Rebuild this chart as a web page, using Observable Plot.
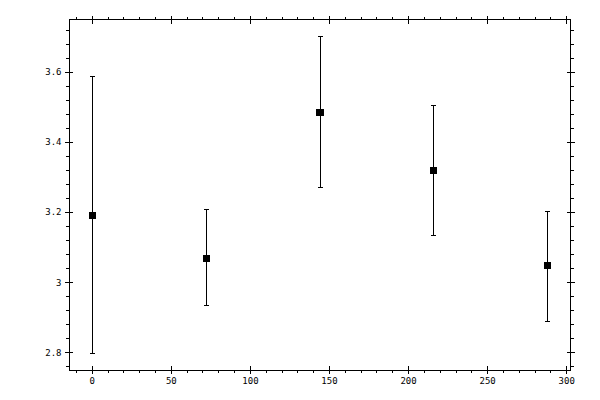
<!DOCTYPE html>
<html>
<head>
<meta charset="utf-8">
<script src="https://cdn.jsdelivr.net/npm/d3@7"></script>
<script src="https://cdn.jsdelivr.net/npm/@observablehq/plot@0.6"></script>
<style>
  html, body { margin: 0; padding: 0; background: #fff; }
  svg line, svg path, svg rect { shape-rendering: crispEdges; }
</style>
</head>
<body>
<div id="chart"></div>
<script>
const xs    = [0, 72, 144, 216, 288];
const ys    = [3.193, 3.070, 3.486, 3.321, 3.048];
const lows  = [2.798, 2.935, 3.270, 3.136, 2.891];
const highs = [3.587, 3.210, 3.702, 3.505, 3.204];

const xMajor = [0, 50, 100, 150, 200, 250, 300];
const xMinor = d3.range(-10, 301, 10);
const yMajor = [2.8, 3.0, 3.2, 3.4, 3.6];
const yMinor = d3.range(276, 373, 4).map(v => v / 100);

const data = xs.map((x, i) => ({x, y: ys[i], lo: lows[i], hi: highs[i]}));

const cap = {draw(ctx) { ctx.moveTo(-2.5, 0); ctx.lineTo(2.5, 0); }};
const blank = () => "";
const fmt = d => String(+d.toFixed(1));
const font = {fontFamily: "'DejaVu Sans Mono', monospace", fontSize: 9};

const chart = Plot.plot({
  width: 600,
  height: 400,
  marginLeft: 69,
  marginRight: 30,
  marginTop: 19,
  marginBottom: 30,
  style: {background: "white", color: "black", ...font},
  x: {domain: [-14.4, 302.4]},
  y: {domain: [2.75, 3.75]},
  marks: [
    Plot.frame({stroke: "black"}),
    // bottom
    Plot.axisX(xMajor, {anchor: "bottom", tickSize: 8, dy: -4, tickFormat: blank, label: null}),
    Plot.axisX(xMinor, {anchor: "bottom", tickSize: 3, tickFormat: blank, label: null}),
    Plot.axisX(xMajor, {anchor: "bottom", tickSize: 0, tickPadding: 7, tickFormat: fmt, label: null, ...font}),
    // top
    Plot.axisX(xMajor, {anchor: "top", tickSize: 8, dy: 4, tickFormat: blank, label: null}),
    Plot.axisX(xMinor, {anchor: "top", tickSize: 3, tickFormat: blank, label: null}),
    // left
    Plot.axisY(yMajor, {anchor: "left", tickSize: 8, dx: 4, tickFormat: blank, label: null}),
    Plot.axisY(yMinor, {anchor: "left", tickSize: 3, tickFormat: blank, label: null}),
    Plot.axisY(yMajor, {anchor: "left", tickSize: 0, tickPadding: 8, tickFormat: fmt, label: null, ...font}),
    // right
    Plot.axisY(yMajor, {anchor: "right", tickSize: 8, dx: -4, tickFormat: blank, label: null}),
    Plot.axisY(yMinor, {anchor: "right", tickSize: 3, tickFormat: blank, label: null}),
    // error bars
    Plot.ruleX(data, {x: "x", y1: "lo", y2: "hi", stroke: "black", strokeWidth: 1}),
    Plot.dot(data, {x: "x", y: "lo", symbol: cap, stroke: "black", fill: "none", strokeWidth: 1}),
    Plot.dot(data, {x: "x", y: "hi", symbol: cap, stroke: "black", fill: "none", strokeWidth: 1}),
    Plot.dot(data, {x: "x", y: "y", symbol: "square", r: 3.95, fill: "black", stroke: "none"})
  ]
});
document.getElementById("chart").appendChild(chart);
</script>
</body>
</html>
